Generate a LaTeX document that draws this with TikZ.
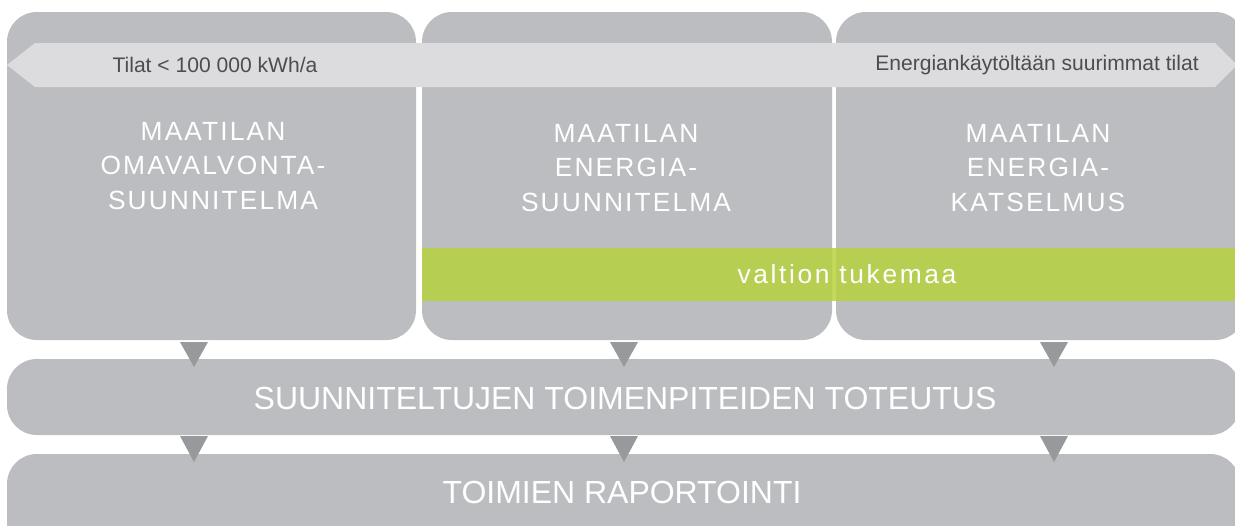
\documentclass[tikz,border=0pt]{standalone}
\usepackage{fontspec}
\setmainfont{Liberation Sans}
\newfontfamily\titlefont[LetterSpace=8]{Liberation Sans}
\newfontfamily\tukifont[LetterSpace=10]{Liberation Sans}
\usepackage{tikz}
\usetikzlibrary{positioning}
\usepackage{xcolor}
\definecolor{boxgray}{RGB}{188,189,192}
\definecolor{bandgray}{RGB}{220,220,222}
\definecolor{tipgray}{RGB}{152,153,157}
\definecolor{textgray}{RGB}{77,77,79}
\definecolor{tukigreen}{RGB}{182,210,61}

\begin{document}
\begin{tikzpicture}[x=0.02cm, y=-0.02cm,
    boxfill/.style={fill=boxgray, rounded corners=17pt},
    titletext/.style={text=white, align=center, font=\titlefont\fontsize{15}{19.8}\selectfont},
    rowtext/.style={text=white, font=\fontsize{18.2}{21}\selectfont},
    bandtext/.style={text=textgray, font=\fontsize{12}{14}\selectfont}]
                \useasboundingbox (0,0) rectangle (1235,525);
                \clip (0,0) rectangle (1235,525);
                % Top boxes
                \foreach \xa/\xb in {7/416, 422/832, 836/1245} {
                    \fill[boxfill] (\xa,12) rectangle (\xb,340);
                }
                % Band arrow
                \fill[bandgray] (7,65) -- (35,43) -- (1215,43) -- (1237,65) -- (1215,87) -- (35,87) -- cycle;
                \node[bandtext] (small) at (215,65) {Tilat < 100 000 kWh/a};
                \node[bandtext] (large) at (1037,65) {Energiankäytöltään suurimmat tilat};
                % Titles
                \node[titletext] (omavalvonta) at (213,166) {MAATILAN\\OMAVALVONTA-\\SUUNNITELMA};
                \node[titletext] (suunnitelma) at (626,168) {MAATILAN\\ENERGIA-\\SUUNNITELMA};
                \node[titletext] (katselmus) at (1038,168) {MAATILAN\\ENERGIA-\\KATSELMUS};
                % Support band
                \fill[tukigreen, opacity=0.84] (422,248) rectangle (1240,301);
                \node[text=white, font=\tukifont\fontsize{15}{18}\selectfont] (tuki) at (847,274) {valtion tukemaa};
                % Rows
                \fill[boxfill] (7,359) rectangle (1240,435);
                \fill[boxfill] (7,454) rectangle (1240,560);
                \node[rowtext] (toteutus) at (625,398) {SUUNNITELTUJEN TOIMENPITEIDEN TOTEUTUS};
                \node[rowtext] (raportointi) at (622,492) {TOIMIEN RAPORTOINTI};
                % Markers
                \foreach \x in {194, 624, 1054} {
                    \fill[tipgray] (\x-14,342) -- (\x+14,342) -- (\x,367) -- cycle;
                    \fill[tipgray] (\x-14,436) -- (\x+14,436) -- (\x,462) -- cycle;
                }
            \end{tikzpicture}
\end{document}
